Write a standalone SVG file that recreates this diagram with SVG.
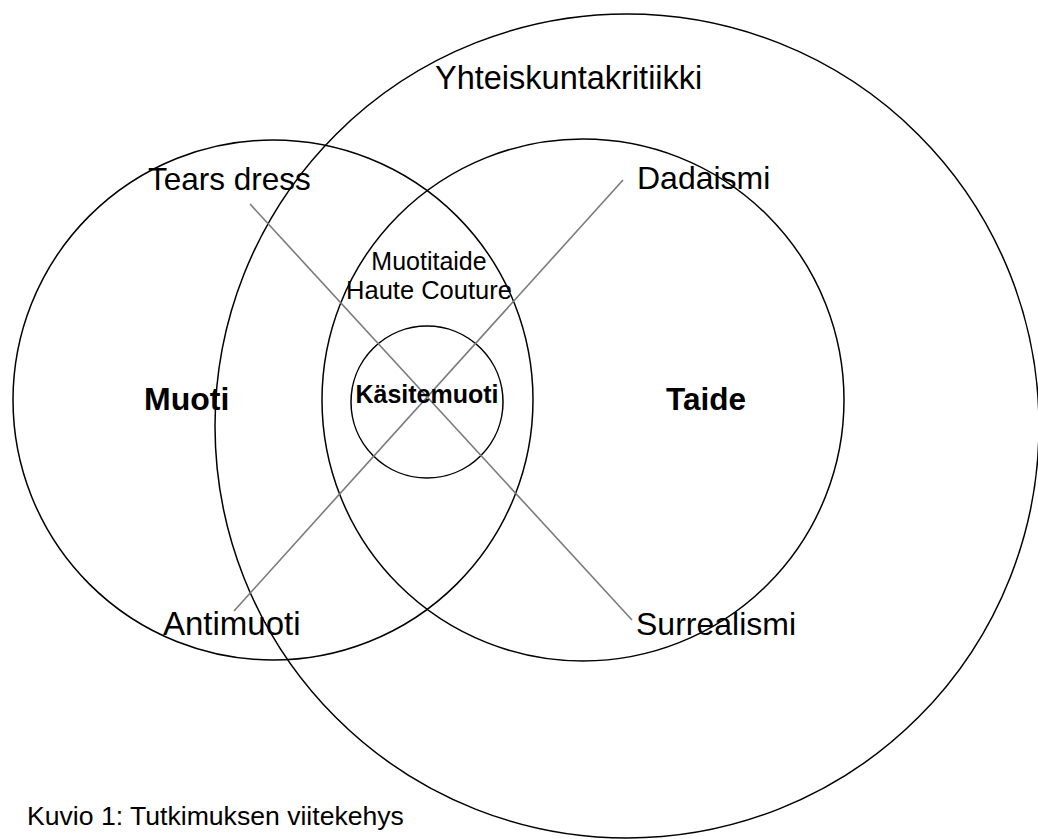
<svg xmlns="http://www.w3.org/2000/svg" width="1038" height="839" viewBox="0 0 1038 839">
<style>
.c{fill:none;stroke:#000;stroke-width:1.5}
.l{stroke:#7a7a7a;stroke-width:1.6;fill:none}
.t{font-family:"Liberation Sans",Arial,sans-serif;fill:#000}
.b{font-weight:bold}
</style>
<rect width="1038" height="839" fill="#fff"/>
<g id="yhteiskuntakritiikki">
<circle class="c" cx="627" cy="426" r="412"/>
<text class="t" x="435" y="89" font-size="32.5">Yhteiskuntakritiikki</text>
</g>
<g id="muoti">
<circle class="c" cx="273" cy="400" r="260"/>
<text class="t b" x="144" y="410" font-size="32">Muoti</text>
</g>
<g id="taide">
<circle class="c" cx="583" cy="400" r="261"/>
<text class="t b" x="666" y="410" font-size="31.5">Taide</text>
</g>
<g id="muotitaide">
<text class="t" x="429" y="270" font-size="25" text-anchor="middle">Muotitaide</text>
<text class="t" x="429" y="299" font-size="25.5" text-anchor="middle">Haute Couture</text>
</g>
<g id="kasitemuoti">
<circle class="c" cx="427" cy="402" r="76"/>
</g>
<g id="connectors">
<line class="l" x1="250" y1="204" x2="632" y2="620"/>
<line class="l" x1="234" y1="611" x2="623" y2="180"/>
</g>
<g id="labels">
<text class="t b" x="427" y="403" font-size="25" text-anchor="middle">Käsitemuoti</text>
<text class="t" x="148" y="190" font-size="31.5">Tears dress</text>
<text class="t" x="637" y="189" font-size="32">Dadaismi</text>
<text class="t" x="163" y="635" font-size="33">Antimuoti</text>
<text class="t" x="636" y="635" font-size="32">Surrealismi</text>
</g>
<g id="caption">
<text class="t" x="27" y="825" font-size="26.6" fill="#111">Kuvio 1: Tutkimuksen viitekehys</text>
</g>
</svg>
